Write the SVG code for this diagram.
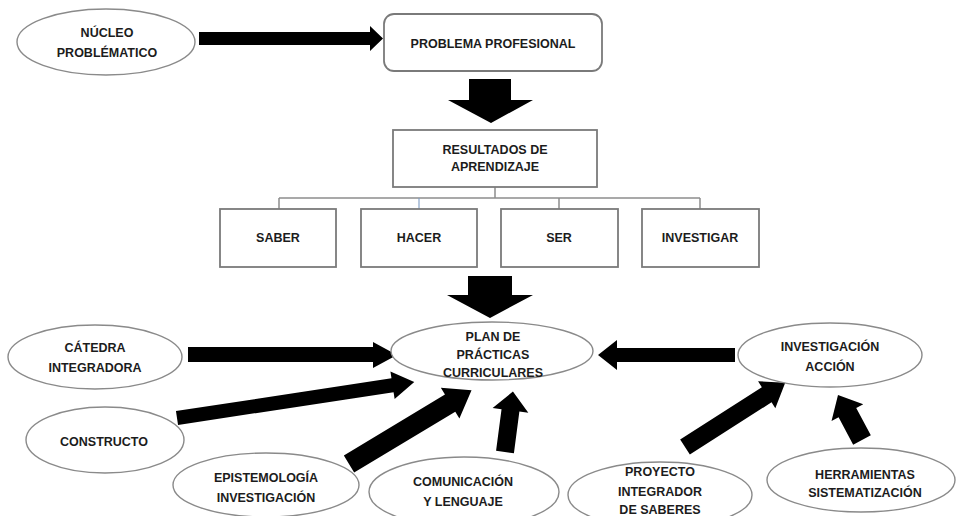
<svg xmlns="http://www.w3.org/2000/svg" width="956" height="516" viewBox="0 0 956 516">
<style>
.n ellipse{fill:#fff;stroke:#8a8a8a;stroke-width:1.4}
.n rect{fill:#fff;stroke:#7a7a7a;stroke-width:1.8}
text{font-family:"Liberation Sans",Arial,sans-serif;font-weight:bold;font-size:12.5px;fill:#1c1c1c;text-anchor:middle;dominant-baseline:central}
.c line{stroke:#8c8c8c;stroke-width:1.5}
.a{fill:#000}
</style>
<rect width="956" height="516" fill="#fff"/>
<g id="connectors">
<g class="c">
<line x1="495" y1="187" x2="495" y2="198"/>
<line x1="279" y1="198" x2="700" y2="198"/>
<line x1="279" y1="198" x2="279" y2="209"/>
<line x1="419" y1="198" x2="419" y2="209" style="stroke:#7e9cc4;stroke-width:1.1"/>
<line x1="559" y1="198" x2="559" y2="209"/>
<line x1="700" y1="198" x2="700" y2="209"/>
</g>
<polygon class="a" points="199,32 370,32 370,26 383,38.5 370,51 370,45 199,45"/>
<polygon class="a" points="469,79 511,79 511,100 533,100 491,123 448,100 469,100"/>
<polygon class="a" points="468,276 512,276 512,295 533,295 490,318 447,295 468,295"/>
<polygon class="a" points="188,347 373,347 373,342 397,355 373,368 373,362 188,362"/>
<polygon class="a" points="735,348 617,348 617,340 598,355 617,370 617,362 735,362"/>
<polygon class="a" transform="translate(177,418) rotate(-8.64)" points="0,-7 218,-7 218,-14 240,0 218,14 218,7 0,7"/>
<polygon class="a" transform="translate(349,464) rotate(-31.03)" points="0,-10 118,-10 118,-18 143,0 118,18 118,10 0,10"/>
<polygon class="a" transform="translate(505,452) rotate(-82.53)" points="0,-9 42,-9 42,-18 61,0 42,18 42,9 0,9"/>
<polygon class="a" transform="translate(685,447) rotate(-32.62)" points="0,-9 97,-9 97,-16 119,0 97,16 97,9 0,9"/>
<polygon class="a" transform="translate(862,440) rotate(-118.07)" points="0,-10 31,-10 31,-18 51,0 31,18 31,10 0,10"/>
</g>
<g id="nucleo" class="n"><ellipse cx="106" cy="42" rx="89" ry="33"/><text x="107" y="33">NÚCLEO</text><text x="107" y="53">PROBLÉMATICO</text></g>
<g id="problema" class="n"><rect x="384" y="14" width="218" height="57" rx="10"/><text x="493" y="44">PROBLEMA PROFESIONAL</text></g>
<g id="resultados" class="n"><rect x="393" y="130" width="204" height="57"/><text x="495" y="150">RESULTADOS DE</text><text x="495" y="167">APRENDIZAJE</text></g>
<g id="saber" class="n"><rect x="220" y="209" width="116" height="58"/><text x="278" y="238">SABER</text></g>
<g id="hacer" class="n"><rect x="361" y="209" width="116" height="58"/><text x="419" y="238">HACER</text></g>
<g id="ser" class="n"><rect x="501" y="209" width="117" height="58"/><text x="559" y="238">SER</text></g>
<g id="investigar" class="n"><rect x="642" y="209" width="117" height="58"/><text x="700" y="238">INVESTIGAR</text></g>
<g id="plan" class="n"><ellipse cx="492" cy="351" rx="101" ry="29"/><text x="493" y="337">PLAN DE</text><text x="493" y="355">PRÁCTICAS</text><text x="493" y="373">CURRICULARES</text></g>
<g id="catedra" class="n"><ellipse cx="95" cy="357" rx="87" ry="32"/><text x="95" y="348">CÁTEDRA</text><text x="95" y="368">INTEGRADORA</text></g>
<g id="constructo" class="n"><ellipse cx="105" cy="440" rx="79" ry="33"/><text x="104" y="442">CONSTRUCTO</text></g>
<g id="epistemologia" class="n"><ellipse cx="266" cy="485" rx="93" ry="32"/><text x="266" y="478">EPISTEMOLOGÍA</text><text x="266" y="498">INVESTIGACIÓN</text></g>
<g id="comunicacion" class="n"><ellipse cx="464" cy="492" rx="95" ry="35"/><text x="463" y="482">COMUNICACIÓN</text><text x="463" y="502">Y LENGUAJE</text></g>
<g id="investigacion-accion" class="n"><ellipse cx="830" cy="355" rx="92" ry="32"/><text x="830" y="347">INVESTIGACIÓN</text><text x="830" y="367">ACCIÓN</text></g>
<g id="proyecto" class="n"><ellipse cx="660" cy="495" rx="92" ry="33"/><text x="660" y="472">PROYECTO</text><text x="660" y="492">INTEGRADOR</text><text x="660" y="510">DE SABERES</text></g>
<g id="herramientas" class="n"><ellipse cx="861" cy="480" rx="94" ry="32"/><text x="865" y="475">HERRAMIENTAS</text><text x="865" y="493">SISTEMATIZACIÓN</text></g>
</svg>
